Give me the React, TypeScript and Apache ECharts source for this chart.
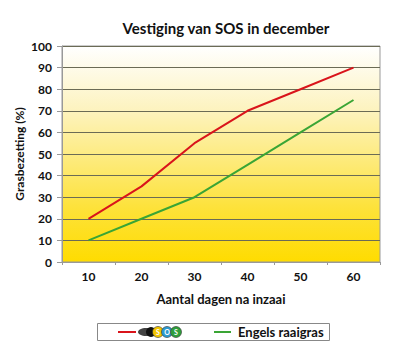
import React, { useEffect, useRef } from "react";
import * as echarts from "echarts";

const categories = ["10", "20", "30", "40", "50", "60"];
const sosValues = [20, 35, 55, 70, 80, 90];
const raaigrasValues = [10, 20, 30, 45, 60, 75];
const seriesNames = ["SOS", "Engels raaigras"];
const title = "Vestiging van SOS in december";
const yName = "Grasbezetting (%)";
const xName = "Aantal dagen na inzaai";

export default function App() {
  const ref = useRef<HTMLDivElement>(null);
  useEffect(() => {
    if (!ref.current) return;
    const chart = echarts.init(ref.current, null, { renderer: "svg" });
    const font = "Lato";
    chart.setOption({
      animation: false,
      backgroundColor: "#ffffff",
      title: {
        text: title,
        left: 221,
        textAlign: "center",
        top: 15,
        textStyle: { fontFamily: font, fontWeight: "bold", fontSize: 15, color: "#111" },
      },
      grid: {
        left: 62,
        right: 16,
        top: 46,
        bottom: 93,
        show: true,
        borderColor: "#999",
        borderWidth: 1,
        backgroundColor: new echarts.graphic.LinearGradient(0, 0, 0, 1, [
          { offset: 0, color: "#ffffff" },
          { offset: 0.3, color: "#fdf3be" },
          { offset: 0.75, color: "#fde23a" },
          { offset: 1, color: "#ffdc00" },
        ]),
      },
      xAxis: {
        type: "category",
        data: categories,
        boundaryGap: true,
        name: xName,
        nameLocation: "middle",
        nameGap: 30,
        nameMoveOverlap: false,
        nameTextStyle: { fontFamily: font, fontWeight: "bold", fontSize: 13, color: "#111" },
        axisLine: { lineStyle: { color: "#999" } },
        axisTick: { show: true, length: 3, lineStyle: { color: "#999" } },
        axisLabel: { fontFamily: font, fontWeight: "bold", fontSize: 12, color: "#111", margin: 8 },
      },
      yAxis: {
        type: "value",
        min: 0,
        max: 100,
        interval: 10,
        name: yName,
        nameLocation: "middle",
        nameGap: 37,
        nameMoveOverlap: false,
        nameTextStyle: { fontFamily: font, fontWeight: "bold", fontSize: 12, color: "#111" },
        axisLine: { show: true, lineStyle: { color: "#999" } },
        axisTick: { show: true, length: 5, lineStyle: { color: "#999" } },
        axisLabel: { fontFamily: font, fontWeight: "bold", fontSize: 12, color: "#111", margin: 10 },
        splitLine: { show: true, lineStyle: { color: "#6b6b55", width: 1 } },
      },
      series: [
        {
          name: seriesNames[0],
          type: "line",
          data: sosValues,
          symbol: "none",
          lineStyle: { color: "#d9141b", width: 2 },
          itemStyle: { color: "#d9141b" },
          z: 3,
        },
        {
          name: seriesNames[1],
          type: "line",
          data: raaigrasValues,
          symbol: "none",
          lineStyle: { color: "#3aa535", width: 2 },
          itemStyle: { color: "#3aa535" },
          z: 3,
        },
      ],
      graphic: [
        {
          type: "rect",
          shape: { x: 97.5, y: 323.5, width: 232, height: 17 },
          style: { fill: "#fff", stroke: "#888", lineWidth: 1 },
        },
        {
          type: "line",
          shape: { x1: 118, y1: 332, x2: 136, y2: 332 },
          style: { stroke: "#d9141b", lineWidth: 2 },
        },
        {
          type: "ellipse",
          shape: { cx: 146, cy: 332, rx: 8, ry: 4 },
          style: { fill: "#222", opacity: 0.85 },
        },
        {
          type: "circle",
          shape: { cx: 151, cy: 332, r: 5 },
          style: { fill: "#111" },
        },
        {
          type: "circle",
          shape: { cx: 158, cy: 332, r: 5.5 },
          style: { fill: "#f2c500", stroke: "#333", lineWidth: 0.6 },
        },
        {
          type: "circle",
          shape: { cx: 167, cy: 332, r: 5.5 },
          style: { fill: "#2e9ad0", stroke: "#333", lineWidth: 0.6 },
        },
        {
          type: "circle",
          shape: { cx: 176, cy: 332, r: 5.5 },
          style: { fill: "#2f9e3c", stroke: "#333", lineWidth: 0.6 },
        },
        {
          type: "text",
          style: { x: 158, y: 332, text: "S", fill: "#fff", fontSize: 7, fontWeight: "bold", fontFamily: font, align: "center", verticalAlign: "middle" },
        },
        {
          type: "text",
          style: { x: 167, y: 332, text: "O", fill: "#fff", fontSize: 7, fontWeight: "bold", fontFamily: font, align: "center", verticalAlign: "middle" },
        },
        {
          type: "text",
          style: { x: 176, y: 332, text: "S", fill: "#fff", fontSize: 7, fontWeight: "bold", fontFamily: font, align: "center", verticalAlign: "middle" },
        },
        {
          type: "line",
          shape: { x1: 214, y1: 332, x2: 231, y2: 332 },
          style: { stroke: "#3aa535", lineWidth: 2 },
        },
        {
          type: "text",
          style: { x: 238, y: 332, text: seriesNames[1], fill: "#111", fontSize: 13, fontWeight: "bold", fontFamily: font, verticalAlign: "middle" },
        },
      ],
    });
    return () => chart.dispose();
  }, []);
  return <div ref={ref} style={{ width: 396, height: 355, margin: -8 }} />;
}
